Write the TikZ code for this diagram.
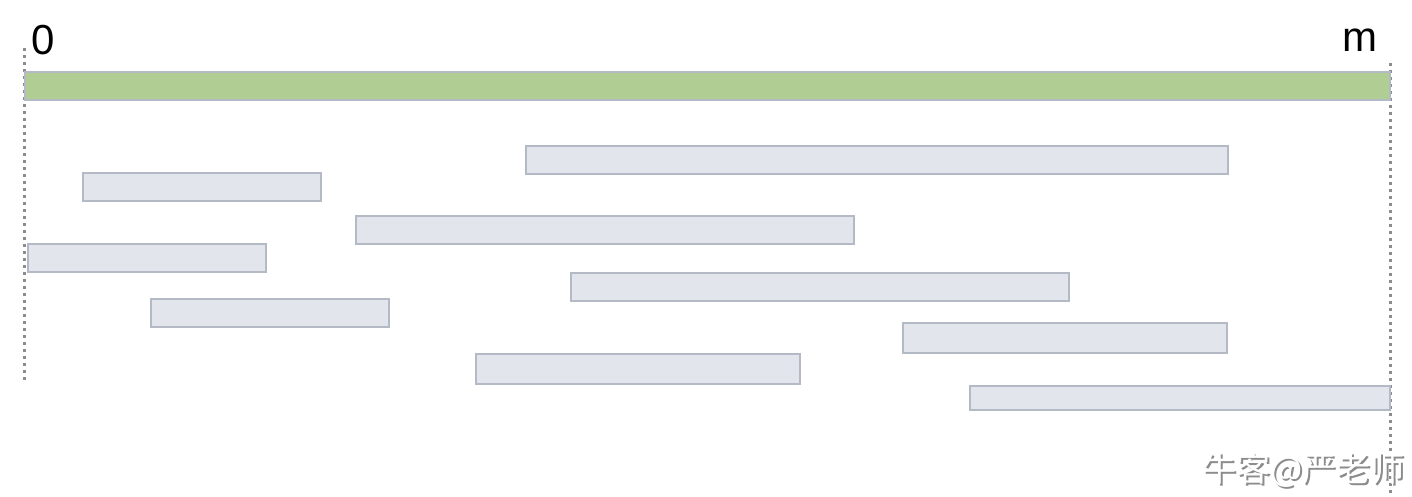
\documentclass[tikz,border=0pt]{standalone}
\usepackage{fontspec}
\setmainfont{Liberation Sans}
\newfontfamily\cjk{Noto Sans CJK SC}
\definecolor{barline}{RGB}{180,185,198}
\definecolor{barfill}{RGB}{226,229,236}
\definecolor{greenfill}{RGB}{176,206,148}
\definecolor{dotgray}{RGB}{140,140,140}
\tikzset{
  seg/.style={draw=barline, fill=barfill, line width=1.5pt},
  whole/.style={draw=barline, fill=greenfill, line width=1.5pt},
  bound/.style={draw=dotgray, line width=3pt, dash pattern=on 3pt off 4pt},
  endlabel/.style={inner sep=0pt, font=\fontsize{42}{42}\selectfont}
}
\begin{document}
\begin{tikzpicture}[x=1pt,y=1pt,yscale=-1,xscale=1]
\useasboundingbox (0,0) rectangle (1412,496);

%Boundary Lines
\draw [bound] (24,48) -- (24,381) ;
\draw [bound] (1390,63) -- (1390,496) ;

%Whole Interval
\draw [whole] (25,72) rectangle (1390,100) ;

%Sub Intervals
\draw [seg] (526,146) rectangle (1228,174) ;
\draw [seg] (83,173) rectangle (321,201) ;
\draw [seg] (356,216) rectangle (854,244) ;
\draw [seg] (28,244) rectangle (266,272) ;
\draw [seg] (571,273) rectangle (1069,301) ;
\draw [seg] (151,299) rectangle (389,327) ;
\draw [seg] (903,323) rectangle (1227,353) ;
\draw [seg] (476,354) rectangle (800,384) ;
\draw [seg] (970,386) rectangle (1390,410) ;

% Text Node
\node (zero) [endlabel, anchor=base west] at (31,54) {0};
% Text Node
\node (mlab) [endlabel, anchor=base east] at (1378,51) {m};
% Text Node
\node (mark) [inner sep=0pt, anchor=east, text=black!45, font=\cjk\fontsize{34}{34}\selectfont] at (1406.5,471.5) {牛客@严老师};
\node (markw) [inner sep=0pt, anchor=east, text=white, font=\cjk\fontsize{34}{34}\selectfont] at (1405,470) {牛客@严老师};

\end{tikzpicture}
\end{document}
